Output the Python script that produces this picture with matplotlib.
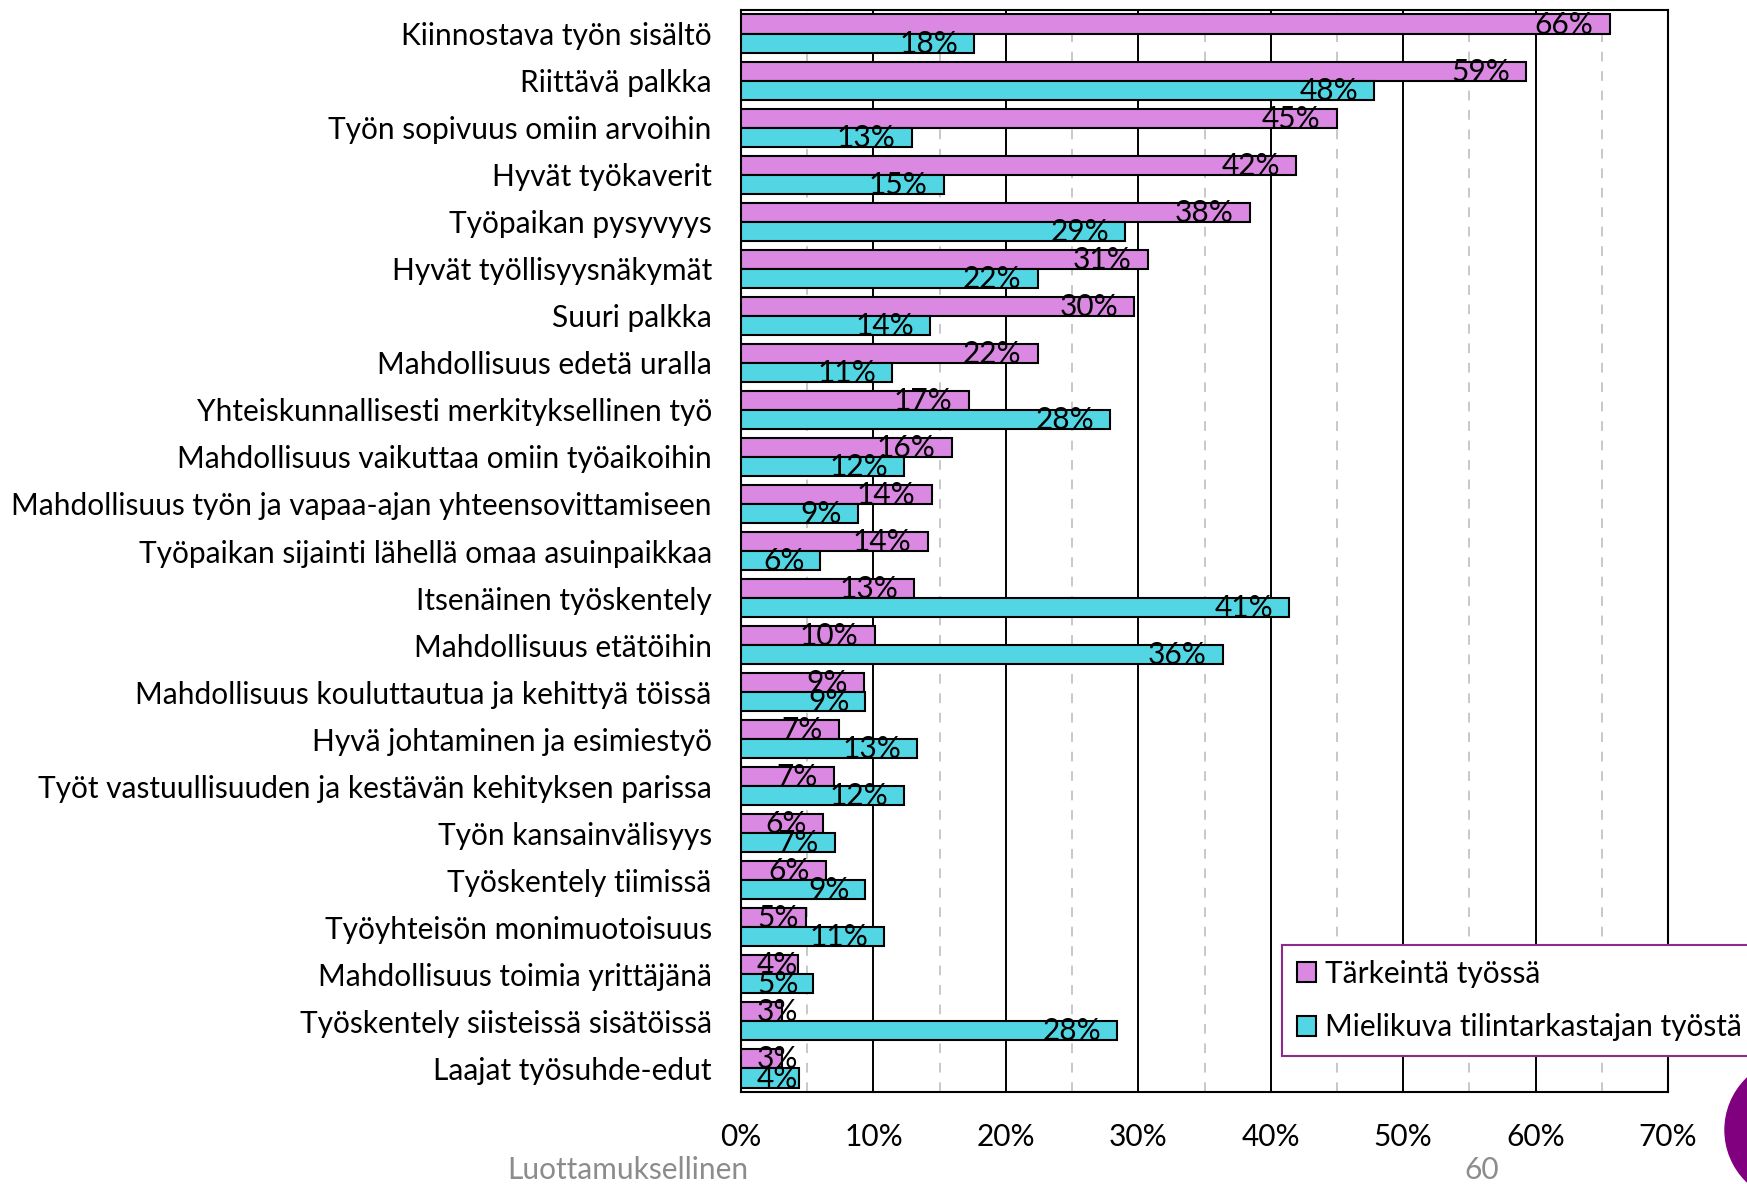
import matplotlib
matplotlib.use("Agg")
import matplotlib.pyplot as plt
import matplotlib.transforms as mtransforms
from matplotlib.patches import Patch, Ellipse
import numpy as np

plt.rcParams['font.family'] = ['Lato', 'DejaVu Sans']

categories = [
    "Kiinnostava työn sisältö",
    "Riittävä palkka",
    "Työn sopivuus omiin arvoihin",
    "Hyvät työkaverit",
    "Työpaikan pysyvyys",
    "Hyvät työllisyysnäkymät",
    "Suuri palkka",
    "Mahdollisuus edetä uralla",
    "Yhteiskunnallisesti merkityksellinen työ",
    "Mahdollisuus vaikuttaa omiin työaikoihin",
    "Mahdollisuus työn ja vapaa-ajan yhteensovittamiseen",
    "Työpaikan sijainti lähellä omaa asuinpaikkaa",
    "Itsenäinen työskentely",
    "Mahdollisuus etätöihin",
    "Mahdollisuus kouluttautua ja kehittyä töissä",
    "Hyvä johtaminen ja esimiestyö",
    "Työt vastuullisuuden ja kestävän kehityksen parissa",
    "Työn kansainvälisyys",
    "Työskentely tiimissä",
    "Työyhteisön monimuotoisuus",
    "Mahdollisuus toimia yrittäjänä",
    "Työskentely siisteissä sisätöissä",
    "Laajat työsuhde-edut",
]
tarkeinta = [65.6, 59.3, 45.0, 41.9, 38.4, 30.7, 29.7, 22.4, 17.2, 15.9, 14.4, 14.1,
             13.1, 10.1, 9.3, 7.4, 7.0, 6.2, 6.4, 4.9, 4.3, 3.1, 3.1]
mielikuva = [17.6, 47.8, 12.9, 15.3, 29.0, 22.4, 14.3, 11.4, 27.9, 12.3, 8.8, 6.0,
             41.4, 36.4, 9.4, 13.3, 12.3, 7.1, 9.4, 10.8, 5.4, 28.4, 4.4]
series_names = ["Tärkeintä työssä", "Mielikuva tilintarkastajan työstä"]
xticks = [0, 10, 20, 30, 40, 50, 60, 70]

pink = "#DA88E2"
cyan = "#52D6E4"
fs = 21.5

W, H = 1747, 1184
fig = plt.figure(figsize=(W / 100, H / 100), dpi=100)
ax = fig.add_axes([741 / W, 1 - 1092 / H, (1668 - 741) / W, (1092 - 10) / H])

y = np.arange(len(categories))
bh = 0.405
bars1 = ax.barh(y - bh / 2, tarkeinta, height=bh, color=pink, edgecolor="black", linewidth=1.5, zorder=3)
bars2 = ax.barh(y + bh / 2, mielikuva, height=bh, color=cyan, edgecolor="black", linewidth=1.5, zorder=3)

ax.set_xlim(0, 70)
ax.set_ylim(len(categories) - 0.5, -0.5)
ax.set_xticks(xticks)
ax.set_xticklabels([f"{t}%" for t in xticks])
ax.set_xticks(np.arange(5, 70, 10), minor=True)
ax.set_yticks(y)
ax.set_yticklabels(categories)
ax.tick_params(axis="both", which="both", length=0, labelsize=fs)
ax.tick_params(axis="x", pad=22)
ax.tick_params(axis="y", pad=21)
ax.grid(axis="x", which="major", color="black", linewidth=1.4, zorder=1)
ax.grid(axis="x", which="minor", color="#C8C8C8", linewidth=1.4, linestyle=(0, (5, 5)), zorder=1)
ax.grid(axis="y", visible=False)
for s in ax.spines.values():
    s.set_linewidth(1.5)
    s.set_color("black")

# data labels: right edge 16 px inside bar end, never closer than 16 px to axis
fig.canvas.draw()
r = fig.canvas.get_renderer()
ax_left = ax.transData.transform((0, 0))[0]
for bars, vals in ((bars1, tarkeinta), (bars2, mielikuva)):
    for b, v in zip(bars, vals):
        yb = b.get_y() + b.get_height()
        t = ax.text(v, yb, f"{v:.0f}%", ha="right", va="baseline", fontsize=fs, zorder=4,
                    transform=mtransforms.offset_copy(ax.transData, fig, x=-16, y=0, units="dots"))
        w = t.get_window_extent(r).width
        xd = ax.transData.transform((v, 0))[0]
        if xd - 16 - w < ax_left + 16:
            t.set_ha("left")
            t.set_x(0)
            t.set_transform(mtransforms.offset_copy(ax.transData, fig, x=16, y=0, units="dots"))

handles = [Patch(facecolor=pink, edgecolor="black", linewidth=1.5),
           Patch(facecolor=cyan, edgecolor="black", linewidth=1.5)]
leg = fig.legend(handles, series_names, loc="upper left", bbox_to_anchor=(1282 / W, 1 - 945 / H),
                 fontsize=fs, frameon=True, fancybox=False, framealpha=1, borderaxespad=0,
                 handlelength=0.65, handleheight=0.65, handletextpad=0.3, labelspacing=0.85,
                 borderpad=0.5)
leg.get_frame().set_edgecolor("#8E2A8E")
leg.get_frame().set_linewidth(1.5)

fig.text(628 / W, 1 - 1170 / H, "Luottamuksellinen", ha="center", va="center", fontsize=fs, color="#8C8C8C")
fig.text(1482 / W, 1 - 1170 / H, "60", ha="center", va="center", fontsize=fs, color="#8C8C8C")
fig.add_artist(Ellipse((1797 / W, 1 - 1130 / H), 144 / W, 144 / H, transform=fig.transFigure,
                       color="#800080", clip_on=False))

fig.savefig("out.png", dpi=100)
